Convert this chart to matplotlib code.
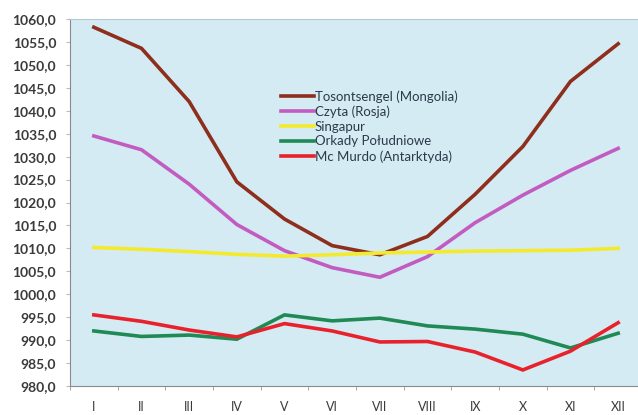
import matplotlib
matplotlib.use("Agg")
import matplotlib.pyplot as plt
import numpy as np

months = ["I", "II", "III", "IV", "V", "VI", "VII", "VIII", "IX", "X", "XI", "XII"]

tosontsengel = [1058.2, 1053.6, 1042.0, 1024.5, 1016.4, 1010.6, 1008.6, 1012.6, 1021.8, 1032.2, 1046.4, 1054.6]
czyta = [1034.5, 1031.5, 1024.0, 1015.2, 1009.5, 1005.8, 1003.7, 1008.2, 1015.6, 1021.6, 1027.0, 1031.8]
singapur = [1010.2, 1009.8, 1009.3, 1008.7, 1008.3, 1008.6, 1009.0, 1009.2, 1009.4, 1009.5, 1009.6, 1010.0]
orkady = [992.0, 990.8, 991.1, 990.2, 995.5, 994.2, 994.8, 993.1, 992.4, 991.3, 988.3, 991.5]
mc_murdo = [995.5, 994.1, 992.2, 990.7, 993.6, 992.0, 989.6, 989.7, 987.4, 983.5, 987.6, 993.8]

series = [
    ("Tosontsengel (Mongolia)", tosontsengel, "#8e2e1c"),
    ("Czyta (Rosja)", czyta, "#c25cc0"),
    ("Singapur", singapur, "#f3ea2e"),
    ("Orkady Południowe", orkady, "#1f8a55"),
    ("Mc Murdo (Antarktyda)", mc_murdo, "#e8222c"),
]

plt.rcParams['font.family'] = ['Lato', 'DejaVu Sans']

fig = plt.figure(figsize=(6.38, 4.15), dpi=100)
fig.patch.set_facecolor("white")
ax = fig.add_axes([70 / 638, 29 / 415, 572 / 638, 367 / 415])
ax.set_facecolor("#d5ebf3")

x = np.arange(len(months))
for name, vals, col in series:
    ax.plot(x, vals, color=col, lw=2.6, label=name, solid_joinstyle="miter")

ax.set_xlim(-0.5, len(months) - 0.5)
ax.set_ylim(980, 1060)
ax.set_yticks(np.arange(980, 1061, 5))
ax.set_yticklabels([f"{v:.1f}".replace(".", ",") for v in np.arange(980, 1061, 5)],
                   fontsize=10, color="#3a3a3a", fontweight="bold")
ax.set_xticks(x)
ax.set_xticklabels(months, fontsize=9, color="#3a3a3a")
ax.set_xticks(np.arange(-0.5, len(months), 1), minor=True)
ax.tick_params(axis="x", which="major", length=0, pad=11)
ax.tick_params(axis="x", which="minor", length=3, color="#9a9a9a")
ax.tick_params(axis="y", length=3, color="#bbbbbb", pad=7)

for side in ["left", "bottom", "top"]:
    ax.spines[side].set_color("#8a8a8a")
    ax.spines[side].set_linewidth(0.8)
ax.spines["top"].set_color("#b8c8d0")
ax.spines["right"].set_visible(False)

leg = ax.legend(loc="upper left", bbox_to_anchor=(0.36, 0.82), frameon=False,
                fontsize=9.5, handlelength=2.5, handletextpad=0.05,
                labelspacing=0.2, borderaxespad=0)
for t in leg.get_texts():
    t.set_color("#2a3a4a")

fig.savefig("out.png", dpi=100)
